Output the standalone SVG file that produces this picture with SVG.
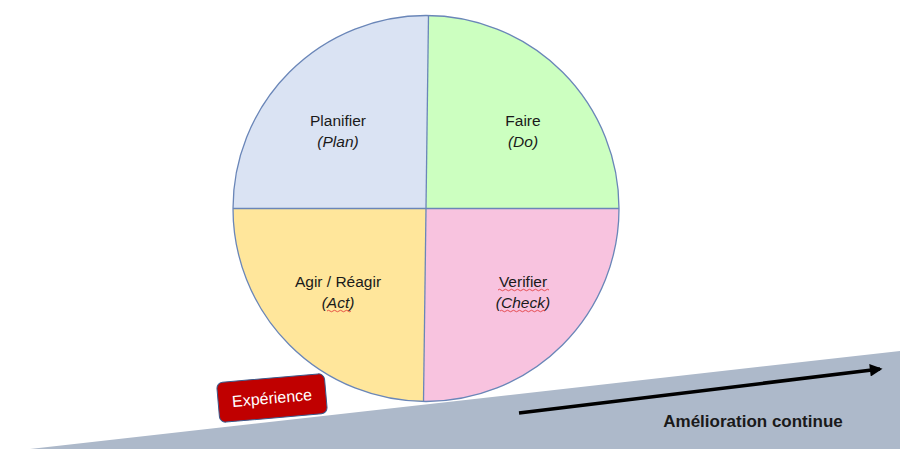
<svg xmlns="http://www.w3.org/2000/svg" width="900" height="449" viewBox="0 0 900 449">
<defs>
<style>
.lbl{font-family:"Liberation Sans",Arial,sans-serif;font-size:15.5px;fill:#1a1a1a;text-anchor:middle}
.it{font-style:italic}
.sq{fill:none;stroke:#e03030;stroke-width:0.8}
.q{stroke:none}
</style>
<marker id="ah" viewBox="0 0 10 10" refX="8" refY="5" markerWidth="4.2" markerHeight="3.6" orient="auto" markerUnits="strokeWidth">
<path d="M0,0 L10,5 L0,10 z" fill="#000"/>
</marker>
</defs>
<rect width="900" height="449" fill="#fff"/>
<polygon id="ground" points="30,449 900,351 900,449" fill="#ADB9CA"/>
<g id="cycle">
<g id="plan">
<path class="q" d="M426,208.5 L233,208.5 A193,193 0 0 1 428.5,15.5 Z" fill="#DAE3F3"/>
<text class="lbl" x="338" y="126">Planifier</text>
<text class="lbl it" x="338" y="147">(Plan)</text>
</g>
<g id="do">
<path class="q" d="M426,208.5 L428.5,15.5 A193,193 0 0 1 619,208.5 Z" fill="#CCFFC0"/>
<text class="lbl" x="523" y="126">Faire</text>
<text class="lbl it" x="523" y="147">(Do)</text>
</g>
<g id="check">
<path class="q" d="M426,208.5 L619,208.5 A193,193 0 0 1 423.5,401.5 Z" fill="#F8C3DF"/>
<text class="lbl" x="523" y="287">Verifier</text>
<text class="lbl it" x="523" y="308">(Check)</text>
<path class="sq" d="M498,290 q1.5,-1.5 3,0 t3,0 t3,0 t3,0 t3,0 t3,0 t3,0 t3,0 t3,0 t3,0 t3,0 t3,0 t3,0 t3,0 t3,0 t3,0 t3,0"/>
<path class="sq" d="M500,311 q1.5,-1.5 3,0 t3,0 t3,0 t3,0 t3,0 t3,0 t3,0 t3,0 t3,0 t3,0 t3,0 t3,0 t3,0 t3,0 t3,0"/>
</g>
<g id="act">
<path class="q" d="M426,208.5 L423.5,401.5 A193,193 0 0 1 233,208.5 Z" fill="#FFE69B"/>
<text class="lbl" x="338" y="287">Agir / Réagir</text>
<text class="lbl it" x="338" y="308">(Act)</text>
<path class="sq" d="M327,311 q1.5,-1.5 3,0 t3,0 t3,0 t3,0 t3,0 t3,0 t3,0 t3,0"/>
</g>
<g id="outline" fill="none" stroke="#6A86B8" stroke-width="1.3">
<circle cx="426" cy="208.5" r="193"/>
<line x1="233" y1="208.5" x2="619" y2="208.5"/>
<line x1="428.5" y1="15.5" x2="423.5" y2="401.5"/>
</g>
</g>
<g id="experience" transform="rotate(-5 272 398)">
<rect x="218" y="378" width="108" height="40" rx="6" fill="#C00000" stroke="#3A5A8C" stroke-width="1"/>
<text x="272" y="403.5" font-family="Liberation Sans,Arial,sans-serif" font-size="16" fill="#fff" text-anchor="middle">Expérience</text>
</g>
<g id="connectors">
<line x1="519" y1="413" x2="880" y2="369" stroke="#000" stroke-width="3.5" marker-end="url(#ah)"/>
</g>
<text id="amelioration" x="753" y="427" font-family="Liberation Sans,Arial,sans-serif" font-size="17" font-weight="bold" fill="#1a1a1a" text-anchor="middle">Amélioration continue</text>
</svg>
